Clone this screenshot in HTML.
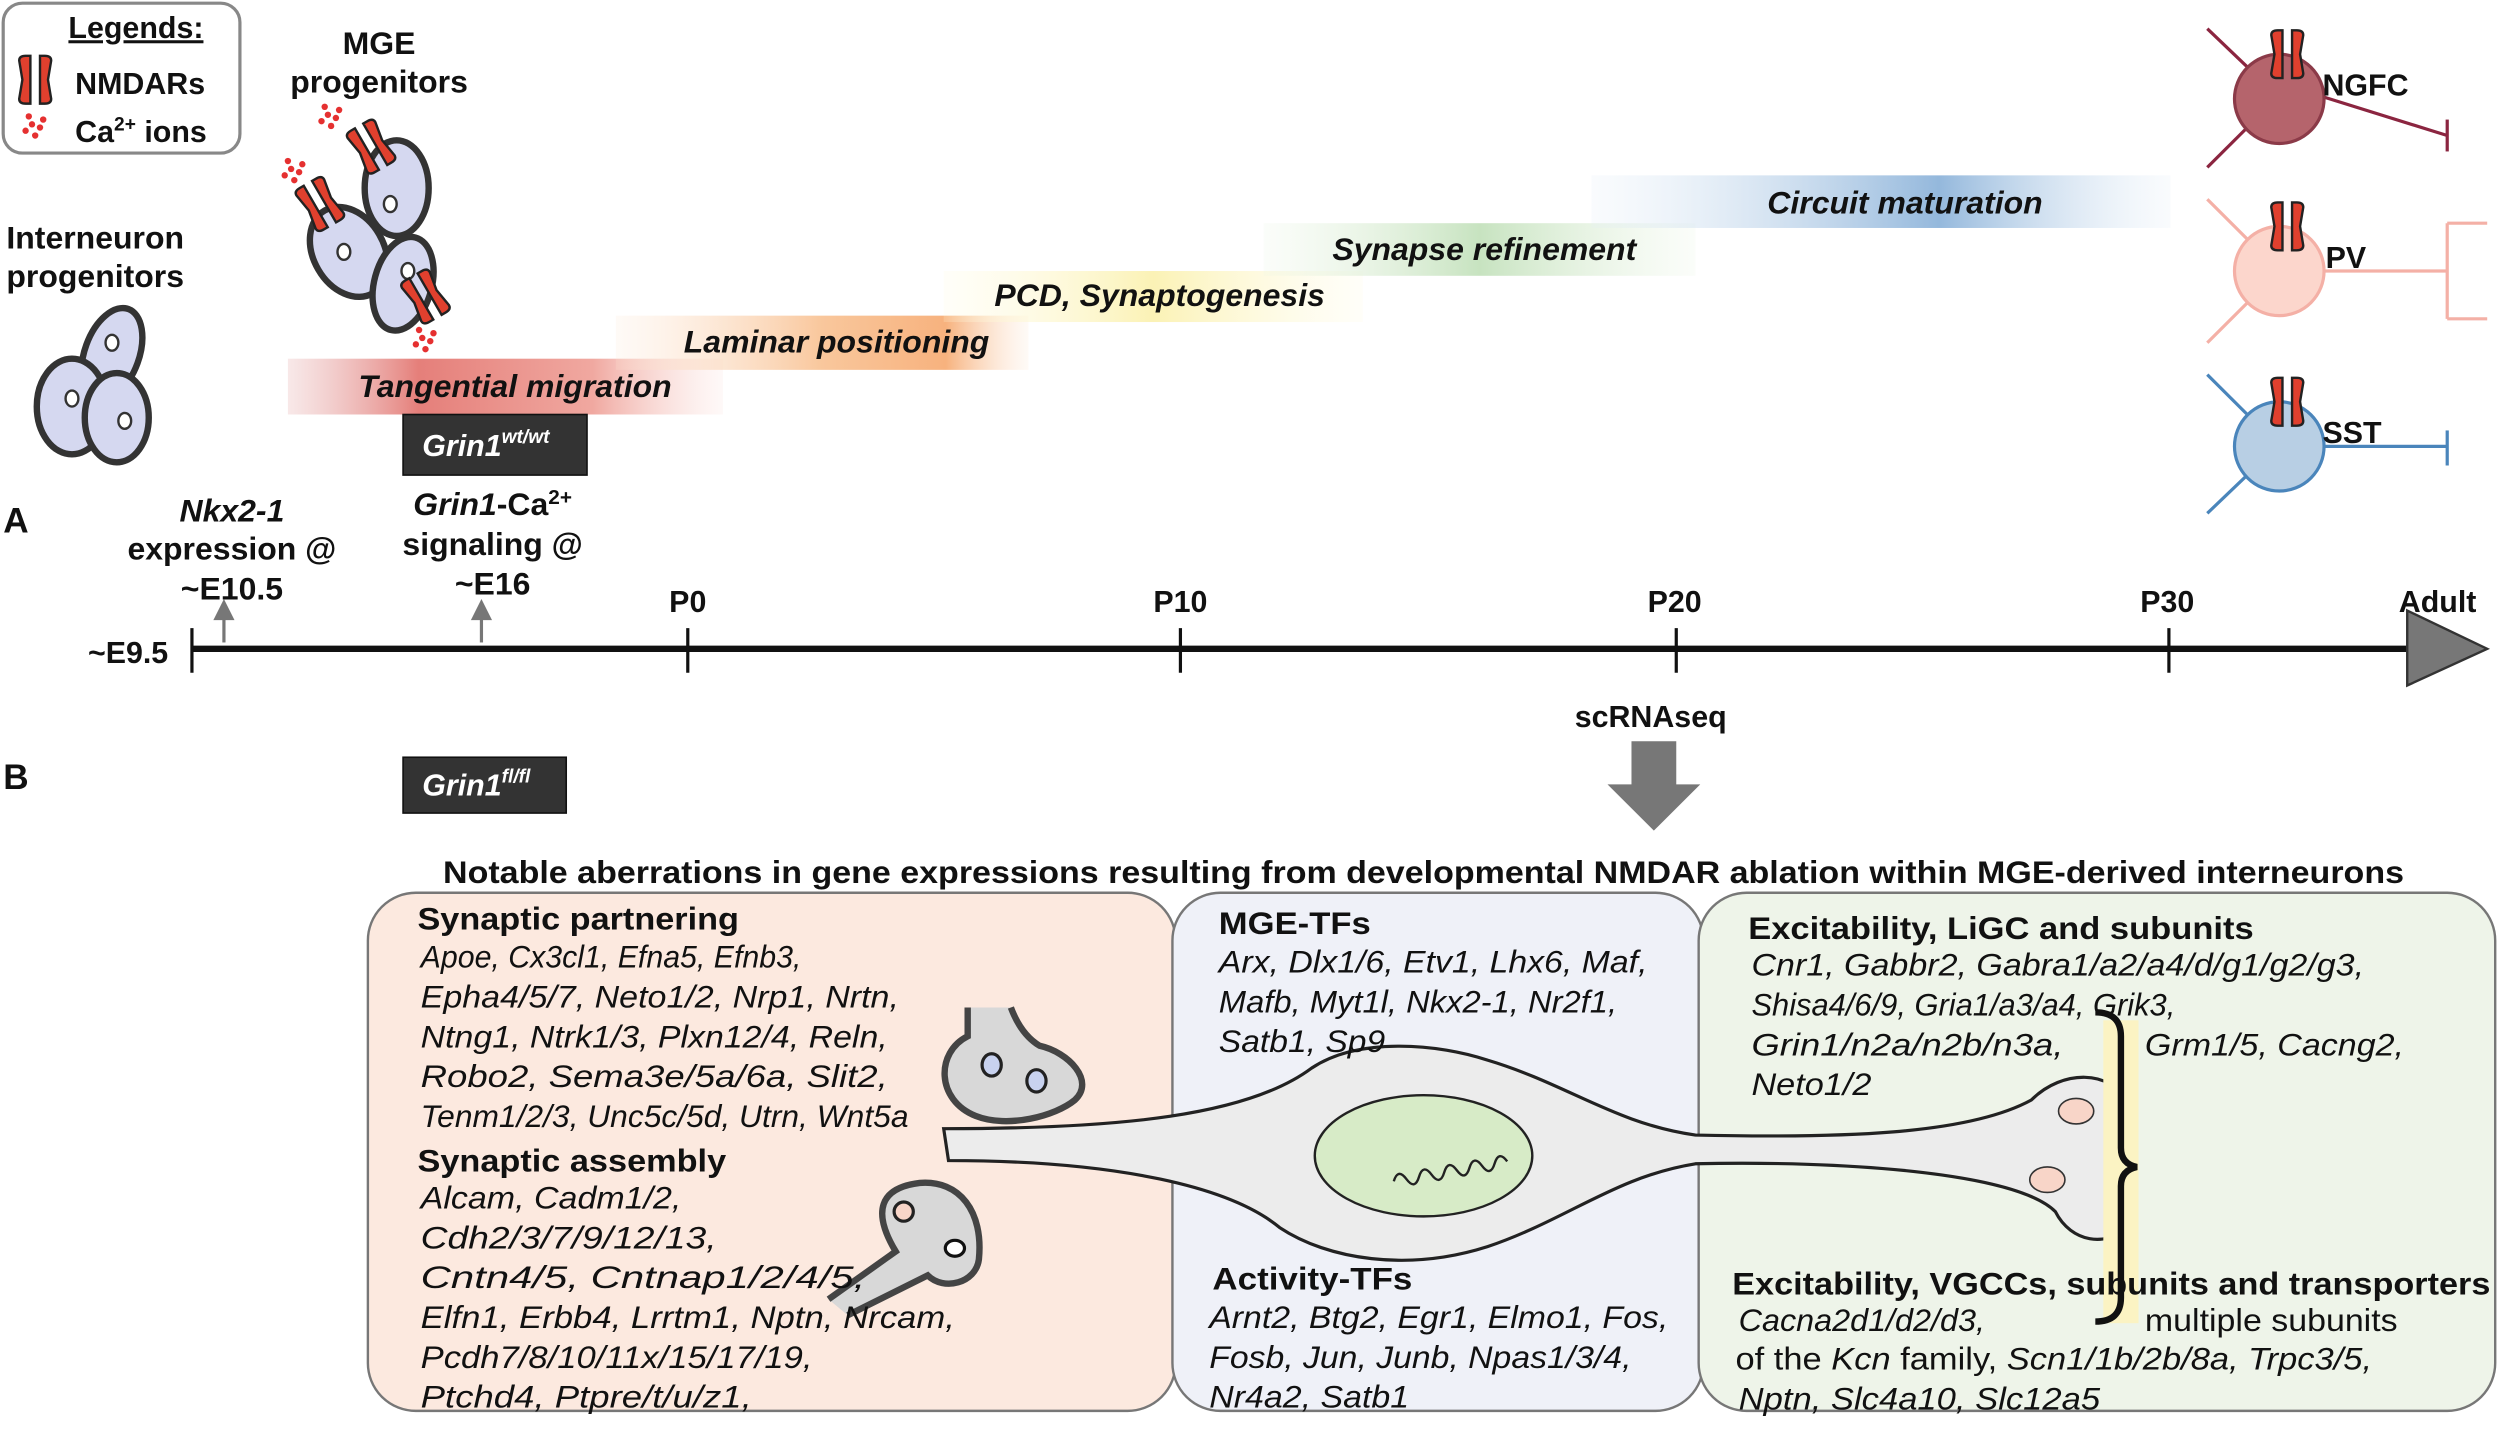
<!DOCTYPE html>
<html><head><meta charset="utf-8"><style>
html,body{margin:0;padding:0;background:#fff;}
svg{display:block;}
text{font-family:"Liberation Sans",Arial,sans-serif;fill:#111;}
.b{font-weight:bold;}
.bi{font-weight:bold;font-style:italic;}
.lst{font-size:19.5px;font-style:italic;}
.hd{font-size:19.5px;font-weight:bold;}
</style></head><body>
<svg width="2500" height="1430" viewBox="0 0 1563 897" preserveAspectRatio="none" xmlns="http://www.w3.org/2000/svg">
<defs>
<linearGradient id="gr" x1="0" x2="1"><stop offset="0" stop-color="#e8b4b4" stop-opacity="0.3"/><stop offset="0.3" stop-color="#e57f7a"/><stop offset="0.7" stop-color="#f0a8a0"/><stop offset="1" stop-color="#fbe0dc" stop-opacity="0.2"/></linearGradient>
<linearGradient id="go" x1="0" x2="1"><stop offset="0" stop-color="#fde7d5" stop-opacity="0.2"/><stop offset="0.5" stop-color="#f9c79c"/><stop offset="0.8" stop-color="#f7b27e"/><stop offset="1" stop-color="#fde7d5" stop-opacity="0.2"/></linearGradient>
<linearGradient id="gy" x1="0" x2="1"><stop offset="0" stop-color="#fffbe0" stop-opacity="0.2"/><stop offset="0.5" stop-color="#fbf2b5"/><stop offset="1" stop-color="#fffbe0" stop-opacity="0.2"/></linearGradient>
<linearGradient id="gg" x1="0" x2="1"><stop offset="0" stop-color="#eaf5e4" stop-opacity="0.2"/><stop offset="0.5" stop-color="#c7e3c0"/><stop offset="1" stop-color="#eaf5e4" stop-opacity="0.2"/></linearGradient>
<linearGradient id="gb" x1="0" x2="1"><stop offset="0" stop-color="#e3edf7" stop-opacity="0.2"/><stop offset="0.6" stop-color="#94b8dc"/><stop offset="1" stop-color="#e3edf7" stop-opacity="0.2"/></linearGradient>
<g id="nm"><path d="M-10,-12 q0,-3 4,-3 h3 v30 h-3 q-4,0 -4,-3 l2,-12 z M10,-12 q0,-3 -4,-3 h-3 v30 h3 q4,0 4,-3 l-2,-12 z" fill="#e0402e" stroke="#222" stroke-width="1.5"/></g>
<g id="ca" fill="#e53030"><circle cx="0" cy="0" r="2"/><circle cx="5" cy="2" r="2"/><circle cx="-4" cy="4" r="2"/><circle cx="2" cy="7" r="2"/><circle cx="7" cy="-3" r="2"/><circle cx="-2" cy="-5" r="2"/></g>
</defs>

<rect x="2" y="2" width="148" height="94" rx="12" fill="#fff" stroke="#888" stroke-width="2"/>
<text x="85" y="24" class="b" font-size="19" text-anchor="middle" text-decoration="underline">Legends:</text>
<use href="#nm" x="22" y="50"/>
<text x="47" y="59" class="b" font-size="19">NMDARs</text>
<use href="#ca" x="20" y="78"/>
<text x="47" y="89" class="b" font-size="19">Ca<tspan font-size="12" dy="-7">2+</tspan><tspan dy="7"> ions</tspan></text>

<text x="237" y="34" class="b" font-size="20" text-anchor="middle">MGE</text>
<text x="237" y="58" class="b" font-size="20" text-anchor="middle">progenitors</text>
<text x="4" y="156" class="b" font-size="20">Interneuron</text>
<text x="4" y="180" class="b" font-size="20">progenitors</text>

<g fill="#d5d8f0" stroke="#333" stroke-width="4">
<ellipse cx="70" cy="222" rx="17" ry="30" transform="rotate(20 70 222)"/>
<ellipse cx="45" cy="255" rx="22" ry="30"/>
<ellipse cx="73" cy="262" rx="20" ry="28"/>
<ellipse cx="218" cy="158" rx="22" ry="30" transform="rotate(-30 218 158)"/>
<ellipse cx="248" cy="118" rx="20" ry="30"/>
<ellipse cx="252" cy="178" rx="18" ry="30" transform="rotate(15 252 178)"/>
</g>
<g fill="#fff" stroke="#333" stroke-width="1.5">
<ellipse cx="70" cy="215" rx="4" ry="5"/><ellipse cx="45" cy="250" rx="4" ry="5"/><ellipse cx="78" cy="264" rx="4" ry="5"/>
<ellipse cx="215" cy="158" rx="4" ry="5"/><ellipse cx="244" cy="128" rx="4" ry="5"/><ellipse cx="255" cy="170" rx="4" ry="5"/>
</g>
<use href="#nm" x="200" y="128" transform="rotate(-30 200 128)"/>
<use href="#nm" x="232" y="92" transform="rotate(-30 232 92)"/>
<use href="#nm" x="266" y="186" transform="rotate(-30 266 186)"/>
<use href="#ca" x="205" y="72"/><use href="#ca" x="182" y="106"/><use href="#ca" x="264" y="212"/>

<rect x="180" y="225" width="272" height="35" fill="url(#gr)"/>
<rect x="385" y="198" width="258" height="34" fill="url(#go)"/>
<rect x="590" y="170" width="262" height="32" fill="url(#gy)"/>
<rect x="790" y="140" width="270" height="33" fill="url(#gg)"/>
<rect x="995" y="110" width="362" height="33" fill="url(#gb)"/>
<text x="322" y="249" class="bi" font-size="20" text-anchor="middle">Tangential migration</text>
<text x="523" y="221" class="bi" font-size="20" text-anchor="middle">Laminar positioning</text>
<text x="725" y="192" class="bi" font-size="20" text-anchor="middle">PCD, Synaptogenesis</text>
<text x="928" y="163" class="bi" font-size="20" text-anchor="middle">Synapse refinement</text>
<text x="1191" y="134" class="bi" font-size="20" text-anchor="middle">Circuit maturation</text>

<rect x="252" y="260" width="115" height="38" fill="#333" stroke="#111"/>
<text x="264" y="286" class="bi" font-size="19" style="fill:#fff">Grin1<tspan font-size="12" dy="-8">wt/wt</tspan></text>

<g stroke-width="2">
<line x1="1380" y1="18" x2="1405" y2="42" stroke="#8b2540"/><line x1="1380" y1="105" x2="1405" y2="80" stroke="#8b2540"/>
<line x1="1450" y1="60" x2="1530" y2="85" stroke="#8b2540"/><line x1="1530" y1="75" x2="1530" y2="95" stroke="#8b2540"/>
<circle cx="1425" cy="62" r="28" fill="#b5646c" stroke="#8b3a48"/>
<line x1="1380" y1="125" x2="1405" y2="150" stroke="#f4b0a6"/><line x1="1380" y1="215" x2="1405" y2="190" stroke="#f4b0a6"/>
<line x1="1452" y1="170" x2="1530" y2="170" stroke="#f4b0a6"/><path d="M1530,170 V140 M1530,170 V200 M1530,140 h25 M1530,200 h25" fill="none" stroke="#f4b0a6"/>
<circle cx="1425" cy="170" r="28" fill="#fcd6cc" stroke="#f4b0a6"/>
<line x1="1380" y1="235" x2="1405" y2="260" stroke="#4a85bb"/><line x1="1380" y1="322" x2="1405" y2="298" stroke="#4a85bb"/>
<line x1="1452" y1="280" x2="1530" y2="280" stroke="#4a85bb"/><line x1="1530" y1="270" x2="1530" y2="292" stroke="#4a85bb"/>
<circle cx="1425" cy="280" r="28" fill="#b8cfe4" stroke="#4a85bb"/>
</g>
<use href="#nm" x="1430" y="34"/><use href="#nm" x="1430" y="142"/><use href="#nm" x="1430" y="252"/>
<text x="1452" y="60" class="b" font-size="19">NGFC</text>
<text x="1454" y="168" class="b" font-size="19">PV</text>
<text x="1452" y="278" class="b" font-size="19">SST</text>

<text x="2" y="334" class="b" font-size="22">A</text>
<text x="145" y="327" class="bi" font-size="20" text-anchor="middle">Nkx2-1</text>
<text x="145" y="351" class="b" font-size="20" text-anchor="middle">expression @</text>
<text x="145" y="376" class="b" font-size="20" text-anchor="middle">~E10.5</text>
<text x="308" y="323" class="b" font-size="20" text-anchor="middle"><tspan font-style="italic">Grin1</tspan>-Ca<tspan font-size="13" dy="-7">2+</tspan></text>
<text x="308" y="348" class="b" font-size="20" text-anchor="middle">signaling @</text>
<text x="308" y="373" class="b" font-size="20" text-anchor="middle">~E16</text>
<g stroke="#777" stroke-width="2" fill="#777">
<line x1="140" y1="403" x2="140" y2="385"/><path d="M135,388 L140,378 L145,388 Z"/>
<line x1="301" y1="403" x2="301" y2="385"/><path d="M296,388 L301,378 L306,388 Z"/>
</g>
<line x1="120" y1="407" x2="1508" y2="407" stroke="#111" stroke-width="4"/>
<path d="M1505,383 L1555,407 L1505,430 Z" fill="#777" stroke="#333" stroke-width="1.5"/>
<g stroke="#111" stroke-width="2">
<line x1="120" y1="394" x2="120" y2="422"/><line x1="430" y1="394" x2="430" y2="422"/><line x1="738" y1="394" x2="738" y2="422"/><line x1="1048" y1="394" x2="1048" y2="422"/><line x1="1356" y1="394" x2="1356" y2="422"/>
</g>
<text x="55" y="416" class="b" font-size="19">~E9.5</text>
<text x="430" y="384" class="b" font-size="19" text-anchor="middle">P0</text>
<text x="738" y="384" class="b" font-size="19" text-anchor="middle">P10</text>
<text x="1047" y="384" class="b" font-size="19" text-anchor="middle">P20</text>
<text x="1355" y="384" class="b" font-size="19" text-anchor="middle">P30</text>
<text x="1524" y="384" class="b" font-size="19" text-anchor="middle">Adult</text>
<text x="1032" y="456" class="b" font-size="19" text-anchor="middle">scRNAseq</text>
<path d="M1020,465 H1048 V492 H1063 L1034,521 L1005,492 H1020 Z" fill="#777"/>

<text x="2" y="495" class="b" font-size="22">B</text>
<rect x="252" y="475" width="102" height="35" fill="#333" stroke="#111"/>
<text x="264" y="499" class="bi" font-size="19" style="fill:#fff">Grin1<tspan font-size="12" dy="-8">fl/fl</tspan></text>

<text x="277" y="554" class="b" font-size="19.5" textLength="1226" lengthAdjust="spacingAndGlyphs">Notable aberrations in gene expressions resulting from developmental NMDAR ablation within MGE-derived interneurons</text>

<rect x="230" y="560" width="505" height="325" rx="30" fill="#fce9df" stroke="#777" stroke-width="1.5"/>
<rect x="733" y="560" width="332" height="325" rx="30" fill="#eff1f8" stroke="#777" stroke-width="1.5"/>
<rect x="1062" y="560" width="498" height="325" rx="30" fill="#eef4e9" stroke="#777" stroke-width="1.5"/>

<path d="M590,708 C700,708 780,700 820,670 C850,650 900,655 930,665 C980,680 1010,705 1060,712 C1150,714 1230,712 1270,690 C1290,670 1320,672 1328,690 L1328,770 C1318,782 1295,780 1285,760 C1260,735 1150,728 1060,730 C1010,738 980,765 930,782 C880,798 830,790 800,770 C770,745 700,728 593,728 Z" fill="#ececec" stroke="#222" stroke-width="2"/>
<ellipse cx="890" cy="725" rx="68" ry="38" fill="#d7ebc7" stroke="#222" stroke-width="1.5"/>
<path d="M870,735 q4,-8 8,0 q4,8 8,0 q4,-8 8,0 q4,8 8,0 q4,-8 8,0 q4,8 8,0 q4,-8 8,0 q4,8 8,0 q4,-8 8,0" fill="none" stroke="#222" stroke-width="1.5" transform="rotate(-10 905 730)"/>
<ellipse cx="1298" cy="697" rx="11" ry="8" fill="#f8d5c8" stroke="#333"/>
<ellipse cx="1280" cy="740" rx="11" ry="8" fill="#f8d5c8" stroke="#333"/>
<rect x="1315" y="640" width="22" height="190" fill="#fbf3c3"/>
<path d="M1310,635 q16,0 16,15 v70 q0,10 10,12 q-10,2 -10,12 v70 q0,15 -16,15" fill="none" stroke="#111" stroke-width="4"/>

<path d="M605,632 V650 C585,660 585,690 610,700 C630,708 660,700 672,690 C685,678 668,660 650,656 C640,650 635,640 632,632" fill="#d8d8d8" stroke="#444" stroke-width="4"/>
<ellipse cx="620" cy="668" rx="6" ry="7" fill="#c8d2ef" stroke="#222" stroke-width="2"/>
<ellipse cx="648" cy="678" rx="6" ry="7" fill="#c8d2ef" stroke="#222" stroke-width="2"/>
<path d="M518,815 L560,785 C545,760 550,745 575,742 C600,740 615,760 612,790 C610,805 590,810 580,800 L530,825" fill="#d8d8d8" stroke="#444" stroke-width="4"/>
<ellipse cx="565" cy="760" rx="6" ry="6" fill="#f8d5c8" stroke="#222" stroke-width="2"/>
<ellipse cx="597" cy="783" rx="6" ry="5" fill="#fff" stroke="#111" stroke-width="2"/>

<text x="261" y="583" class="hd" textLength="201" lengthAdjust="spacingAndGlyphs">Synaptic partnering</text>
<text x="263" y="607" class="lst" textLength="238" lengthAdjust="spacingAndGlyphs">Apoe, Cx3cl1, Efna5, Efnb3,</text>
<text x="263" y="632" class="lst" textLength="299" lengthAdjust="spacingAndGlyphs">Epha4/5/7, Neto1/2, Nrp1, Nrtn,</text>
<text x="263" y="657" class="lst" textLength="292" lengthAdjust="spacingAndGlyphs">Ntng1, Ntrk1/3, Plxn12/4, Reln,</text>
<text x="263" y="682" class="lst" textLength="292" lengthAdjust="spacingAndGlyphs">Robo2, Sema3e/5a/6a, Slit2,</text>
<text x="263" y="707" class="lst" textLength="305" lengthAdjust="spacingAndGlyphs">Tenm1/2/3, Unc5c/5d, Utrn, Wnt5a</text>
<text x="261" y="735" class="hd" textLength="193" lengthAdjust="spacingAndGlyphs">Synaptic assembly</text>
<text x="263" y="758" class="lst" textLength="163" lengthAdjust="spacingAndGlyphs">Alcam, Cadm1/2,</text>
<text x="263" y="783" class="lst" textLength="185" lengthAdjust="spacingAndGlyphs">Cdh2/3/7/9/12/13,</text>
<text x="263" y="808" class="lst" textLength="278" lengthAdjust="spacingAndGlyphs">Cntn4/5, Cntnap1/2/4/5,</text>
<text x="263" y="833" class="lst" textLength="334" lengthAdjust="spacingAndGlyphs">Elfn1, Erbb4,  Lrrtm1, Nptn, Nrcam,</text>
<text x="263" y="858" class="lst" textLength="245" lengthAdjust="spacingAndGlyphs">Pcdh7/8/10/11x/15/17/19,</text>
<text x="263" y="883" class="lst" textLength="207" lengthAdjust="spacingAndGlyphs">Ptchd4, Ptpre/t/u/z1,</text>

<text x="762" y="586" class="hd" textLength="95" lengthAdjust="spacingAndGlyphs">MGE-TFs</text>
<text x="762" y="610" class="lst" textLength="268" lengthAdjust="spacingAndGlyphs">Arx, Dlx1/6, Etv1, Lhx6, Maf,</text>
<text x="762" y="635" class="lst" textLength="249" lengthAdjust="spacingAndGlyphs">Mafb, Myt1l, Nkx2-1, Nr2f1,</text>
<text x="762" y="660" class="lst" textLength="104" lengthAdjust="spacingAndGlyphs">Satb1, Sp9</text>
<text x="758" y="809" class="hd" textLength="125" lengthAdjust="spacingAndGlyphs">Activity-TFs</text>
<text x="756" y="833" class="lst" textLength="287" lengthAdjust="spacingAndGlyphs">Arnt2, Btg2, Egr1, Elmo1, Fos,</text>
<text x="756" y="858" class="lst" textLength="264" lengthAdjust="spacingAndGlyphs">Fosb, Jun, Junb, Npas1/3/4,</text>
<text x="756" y="883" class="lst" textLength="125" lengthAdjust="spacingAndGlyphs">Nr4a2, Satb1</text>

<text x="1093" y="589" class="hd" textLength="316" lengthAdjust="spacingAndGlyphs">Excitability, LiGC and subunits</text>
<text x="1095" y="612" class="lst" textLength="383" lengthAdjust="spacingAndGlyphs">Cnr1, Gabbr2, Gabra1/a2/a4/d/g1/g2/g3,</text>
<text x="1095" y="637" class="lst" textLength="265" lengthAdjust="spacingAndGlyphs">Shisa4/6/9, Gria1/a3/a4, Grik3,</text>
<text x="1095" y="662" class="lst" textLength="195" lengthAdjust="spacingAndGlyphs">Grin1/n2a/n2b/n3a,</text>
<text x="1341" y="662" class="lst" textLength="162" lengthAdjust="spacingAndGlyphs">Grm1/5, Cacng2,</text>
<text x="1095" y="687" class="lst" textLength="75" lengthAdjust="spacingAndGlyphs">Neto1/2</text>
<text x="1083" y="812" class="hd" textLength="474" lengthAdjust="spacingAndGlyphs">Excitability, VGCCs, subunits and transporters</text>
<text x="1087" y="835" class="lst" textLength="154" lengthAdjust="spacingAndGlyphs">Cacna2d1/d2/d3,</text>
<text x="1341" y="835" font-size="19.5" textLength="158" lengthAdjust="spacingAndGlyphs">multiple subunits</text>
<text x="1085" y="859" font-size="19.5" textLength="398" lengthAdjust="spacingAndGlyphs">of the <tspan font-style="italic">Kcn</tspan> family, <tspan font-style="italic">Scn1/1b/2b/8a, Trpc3/5,</tspan></text>
<text x="1087" y="884" class="lst" textLength="226" lengthAdjust="spacingAndGlyphs">Nptn, Slc4a10,  Slc12a5</text>
</svg>
</body></html>
